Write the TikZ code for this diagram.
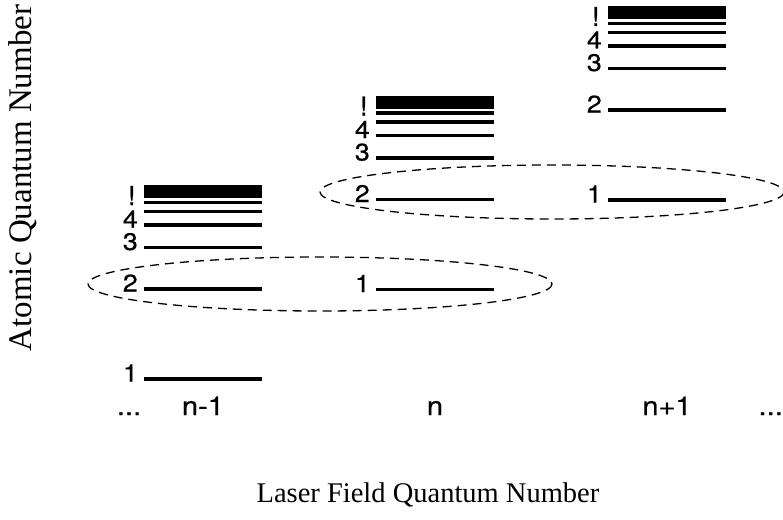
\documentclass[tikz,border=0pt]{standalone}
\usepackage{fontspec}
\setmainfont{Liberation Serif}
\newfontfamily\labelfont[FakeStretch=1.12,FakeBold=0.6]{TeX Gyre Heros}
\begin{document}
\begin{tikzpicture}[x=1pt,y=-1pt,
  level/.style={line width=3.2pt},
  lvlabel/.style={font=\labelfont\fontsize{24}{24}\selectfont, anchor=base east, inner sep=0pt},
  collabel/.style={font=\labelfont\fontsize{26}{26}\selectfont, anchor=base, inner sep=0pt},
  group/.style={dash pattern=on 9pt off 6pt, line width=1.3pt}]
\useasboundingbox (0,0) rectangle (783,519);
% energy ladders, one per laser field quantum number
\foreach \c/\nm in {0/a,1/b,2/c} {
  \pgfmathsetmacro\xl{144+232*\c}
  \pgfmathsetmacro\xr{\xl+118}
  \pgfmathsetmacro\yb{379-89.5*\c}
  \foreach \k/\off in {1/0,2/90,3/131.5,4/154,5/167.5,6/176.5} {
    \draw[level] (\xl,\yb-\off) -- (\xr,\yb-\off);
  }
  \fill (\xl,\yb-181) rectangle (\xr,\yb-194);
  \foreach \k/\off in {1/0,2/90,3/131.5,4/154} {
    \node[lvlabel] (\nm-\k) at (\xl-6,\yb-\off+2.5) {\k};
  }
  \node[lvlabel, font=\labelfont\fontsize{26}{26}\selectfont] (\nm-inf) at (\xl-8,\yb-174) {!};
}
% column labels
\node[collabel] (dl) at (129,415) {...};
\node[collabel] (ca) at (203,415) {n-1};
\node[collabel] (cb) at (435,415) {n};
\node[collabel] (cc) at (667,415) {n+1};
\node[collabel, anchor=base east] (dr) at (783,415) {...};
% resonant groupings
\draw[group] (320,284) ellipse [x radius=232, y radius=27];
\draw[group] (552,192) ellipse [x radius=232, y radius=27];
% axis titles
\node[font=\fontsize{33}{33}\selectfont, inner sep=0pt, rotate=90, anchor=base] (ay) at (31,178) {Atomic Quantum Number};
\node[font=\fontsize{28.5}{28.5}\selectfont, inner sep=0pt, anchor=base] (ax) at (428,502) {Laser Field Quantum Number};
\end{tikzpicture}
\end{document}
